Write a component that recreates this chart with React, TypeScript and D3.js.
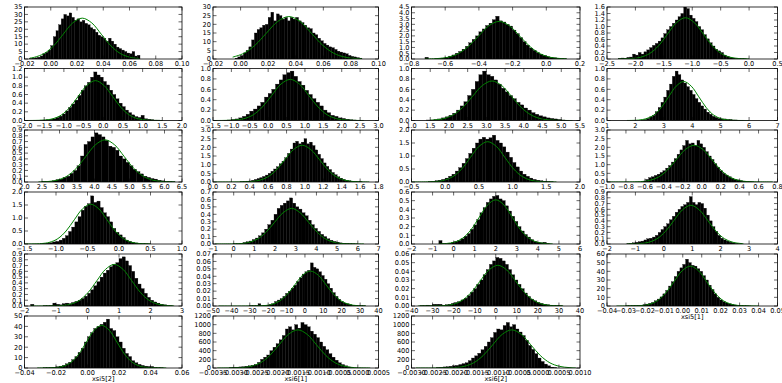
import React from 'react';
import * as d3 from 'd3';

// panel order: row-major, 6 rows x 4 columns (last cell empty)
const LABELS = [
  '', '', '', '',
  '', '', '', '',
  '', '', '', '',
  '', '', '', '',
  '', '', '', 'xsi5[1]',
  'xsi5[2]', 'xsi6[1]', 'xsi6[2]',
];

const X_DOMAINS: [number, number][] = [
  [-0.02, 0.1], [-0.02, 0.1], [-0.8, 0.2], [-2.5, 0.5],
  [-2, 2], [-1.5, 3], [1, 5.5], [1, 7],
  [2, 6.5], [0, 1.8], [-0.5, 2], [-1, 0.8],
  [-1.5, 1], [-1, 7], [-2, 6], [-2, 4],
  [-2, 3], [-50, 40], [-40, 40], [-0.04, 0.05],
  [-0.04, 0.06], [-0.0035, 0.0005], [-0.003, 0.001],
];
const X_STEPS = [
  0.02, 0.02, 0.2, 0.5,
  0.5, 0.5, 0.5, 1,
  0.5, 0.2, 0.5, 0.2,
  0.5, 1, 1, 1,
  1, 10, 10, 0.01,
  0.02, 0.0005, 0.0005,
];
const X_DECIMALS = [2, 2, 1, 1, 1, 1, 1, 0, 1, 1, 1, 1, 1, 0, 0, 0, 0, 0, 0, 2, 2, 4, 4];

const Y_MAX = [35, 30, 4.5, 1.6, 1.2, 1.0, 1.0, 1.0, 0.9, 3.0, 2.0, 3.0, 2.0, 0.7, 0.6, 0.9, 0.9, 0.07, 0.06, 60, 50, 1200, 1200];
const Y_STEPS = [5, 5, 0.5, 0.2, 0.2, 0.2, 0.2, 0.2, 0.1, 0.5, 0.5, 0.5, 0.5, 0.1, 0.1, 0.1, 0.1, 0.01, 0.01, 10, 10, 200, 200];
const Y_DECIMALS = [0, 0, 1, 1, 1, 1, 1, 1, 1, 1, 1, 1, 1, 1, 1, 1, 1, 2, 2, 0, 0, 0, 0];

// histogram bins: first edge and bin width
const BIN_START = [-0.016, -0.004, -0.72, -2.3, -1.6, -1.2, 1.4, 2.2, 2.5, 0.3, -0.25, -0.62, -1.25, 0, -0.7, -1.3, -1.8, -30, -36, -0.03, -0.028, -0.0031, -0.0024];
const BIN_WIDTH = [0.002, 0.002, 0.02, 0.05, 0.08, 0.1, 0.1, 0.1, 0.1, 0.03, 0.05, 0.03, 0.05, 0.15, 0.15, 0.1, 0.1, 1.5, 1.5, 0.0015, 0.002, 0.000075, 0.000075];

const HIST_01 = [0.3, 0.5, 0.8, 1.2, 2, 3.5, 4.5, 6, 9, 15, 19, 23, 27, 30, 29, 31, 28, 26, 27, 25, 26, 24, 23, 21, 20, 18, 16, 15, 14, 12, 14, 12, 10, 8, 7, 6, 5, 4, 3.5, 5, 2, 2.5];
const HIST_02 = [0.5, 1.2, 2, 3.5, 5, 7, 11, 15, 17, 18, 19.5, 20, 24, 27, 22, 26, 25, 23, 24, 22, 24, 23, 24, 22, 21, 19.5, 18, 17.5, 15, 14, 12, 10.5, 9, 8, 7, 6.5, 5.5, 4.5, 4, 3.5, 3, 2, 1.5, 1.2, 0.8, 0.5];
const HIST_03 = [0.15, 0, 0, 0.02, 0.05, 0.08, 0.15, 0.25, 0.35, 0.5, 0.65, 0.85, 1.1, 1.4, 1.7, 2.0, 2.35, 2.6, 2.9, 3.1, 3.4, 3.7, 3.3, 3.2, 3.0, 2.85, 2.5, 2.2, 1.85, 1.5, 1.2, 0.95, 0.75, 0.55, 0.42, 0.3, 0.2, 0.15, 0.1, 0.07, 0.04, 0.02];
const HIST_04 = [0.02, 0.03, 0.02, 0.05, 0.06, 0.15, 0.12, 0.2, 0.15, 0.22, 0.28, 0.35, 0.42, 0.48, 0.55, 0.65, 0.78, 0.9, 1.0, 1.1, 1.2, 1.3, 1.4, 1.6, 1.55, 1.35, 1.25, 1.15, 1.0, 0.9, 0.75, 0.62, 0.5, 0.4, 0.3, 0.25, 0.2, 0.12, 0.08, 0.05, 0.03, 0.02, 0.01, 0.01, 0.005, 0];
const HIST_05 = [0.01, 0.01, 0.02, 0.03, 0.04, 0.07, 0.1, 0.15, 0.22, 0.3, 0.38, 0.47, 0.58, 0.7, 0.8, 0.88, 1.0, 1.12, 1.05, 1.0, 0.9, 0.82, 0.7, 0.6, 0.5, 0.4, 0.32, 0.24, 0.18, 0.13, 0.09, 0.07, 0.12, 0.04, 0.03, 0.02, 0.01, 0.01, 0.005, 0];
const HIST_06 = [0.005, 0.01, 0.02, 0.03, 0.05, 0.08, 0.12, 0.18, 0.22, 0.28, 0.35, 0.45, 0.52, 0.6, 0.7, 0.78, 0.88, 0.92, 0.95, 0.85, 0.75, 0.68, 0.58, 0.5, 0.42, 0.35, 0.28, 0.2, 0.15, 0.1, 0.08, 0.05, 0.04, 0.025, 0.015, 0.01, 0.005, 0.003];
const HIST_07 = [0.01, 0.01, 0.02, 0.03, 0.05, 0.07, 0.1, 0.14, 0.2, 0.28, 0.36, 0.48, 0.6, 0.75, 0.88, 0.95, 0.88, 0.85, 0.78, 0.7, 0.62, 0.55, 0.48, 0.42, 0.35, 0.3, 0.24, 0.2, 0.15, 0.12, 0.09, 0.07, 0.05, 0.04, 0.03, 0.02, 0.01, 0.005];
const HIST_08 = [0.01, 0.02, 0.04, 0.07, 0.1, 0.17, 0.25, 0.35, 0.45, 0.58, 0.7, 0.85, 0.95, 0.88, 0.78, 0.72, 0.65, 0.58, 0.5, 0.42, 0.35, 0.28, 0.22, 0.16, 0.12, 0.08, 0.06, 0.04, 0.03, 0.03, 0.02, 0.02, 0.01, 0.01, 0.005, 0.003];
const HIST_09 = [0.01, 0.01, 0.01, 0.02, 0.04, 0.05, 0.08, 0.1, 0.15, 0.2, 0.28, 0.45, 0.65, 0.7, 0.78, 0.85, 0.82, 0.78, 0.72, 0.62, 0.6, 0.55, 0.45, 0.4, 0.34, 0.28, 0.22, 0.18, 0.14, 0.1, 0.08, 0.06, 0.05, 0.03, 0.02, 0.01, 0.01, 0.005];
const HIST_10 = [0.02, 0.03, 0.05, 0.06, 0.1, 0.15, 0.2, 0.25, 0.32, 0.4, 0.5, 0.62, 0.75, 0.88, 1.05, 1.2, 1.4, 1.65, 1.9, 2.25, 2.35, 2.2, 2.3, 2.5, 2.2, 2.3, 2.1, 1.85, 1.6, 1.35, 1.1, 0.9, 0.72, 0.55, 0.42, 0.3, 0.22, 0.15, 0.1, 0.07, 0.04, 0.03, 0.02, 0.01];
const HIST_11 = [0.02, 0.03, 0.05, 0.07, 0.1, 0.15, 0.22, 0.3, 0.42, 0.55, 0.72, 0.9, 1.1, 1.3, 1.5, 1.65, 1.72, 1.65, 1.7, 1.8, 1.6, 1.5, 1.35, 1.15, 0.95, 0.75, 0.58, 0.42, 0.3, 0.22, 0.15, 0.1, 0.07, 0.05, 0.03, 0.02, 0.01];
const HIST_12 = [0.05, 0.15, 0.25, 0.3, 0.38, 0.45, 0.55, 0.65, 0.8, 0.95, 1.15, 1.35, 1.6, 1.85, 2.1, 2.4, 2.2, 2.25, 2.1, 2.4, 2.2, 2.0, 1.75, 1.5, 1.3, 1.05, 0.85, 0.65, 0.5, 0.4, 0.3, 0.22, 0.15, 0.12, 0.08, 0.05, 0.03, 0.02, 0.01];
const HIST_13 = [0.01, 0.02, 0.03, 0.05, 0.08, 0.1, 0.15, 0.22, 0.32, 0.48, 0.65, 0.85, 1.05, 1.3, 1.45, 1.55, 1.85, 1.6, 1.65, 1.4, 1.2, 1.05, 0.85, 0.6, 0.45, 0.35, 0.25, 0.15, 0.1, 0.06, 0.04, 0.02, 0.01, 0.01, 0.005];
const HIST_14 = [0.003, 0.005, 0.01, 0.02, 0.03, 0.04, 0.06, 0.08, 0.11, 0.15, 0.2, 0.26, 0.32, 0.4, 0.48, 0.52, 0.55, 0.58, 0.62, 0.55, 0.5, 0.47, 0.42, 0.38, 0.32, 0.26, 0.21, 0.17, 0.13, 0.1, 0.07, 0.05, 0.035, 0.025, 0.015, 0.01, 0.008, 0.005, 0.003, 0.002];
const HIST_15 = [0.04, 0.005, 0.005, 0.01, 0.02, 0.03, 0.04, 0.06, 0.09, 0.12, 0.17, 0.22, 0.28, 0.36, 0.42, 0.48, 0.52, 0.55, 0.56, 0.52, 0.5, 0.44, 0.38, 0.32, 0.26, 0.2, 0.15, 0.11, 0.08, 0.05, 0.03, 0.02, 0.015, 0.02, 0.005];
const HIST_16 = [0.005, 0.01, 0.02, 0.03, 0.04, 0.05, 0.07, 0.09, 0.1, 0.12, 0.15, 0.2, 0.25, 0.3, 0.35, 0.42, 0.48, 0.55, 0.6, 0.65, 0.68, 0.72, 0.82, 0.72, 0.68, 0.72, 0.7, 0.62, 0.5, 0.4, 0.3, 0.22, 0.15, 0.1, 0.07, 0.05, 0.03, 0.02, 0.01, 0.005];
const HIST_17 = [0.03, 0, 0, 0, 0.005, 0.005, 0.01, 0.05, 0.03, 0.02, 0.04, 0.05, 0.04, 0.06, 0.08, 0.1, 0.13, 0.17, 0.22, 0.28, 0.35, 0.42, 0.5, 0.57, 0.62, 0.68, 0.72, 0.75, 0.82, 0.85, 0.78, 0.7, 0.6, 0.48, 0.38, 0.3, 0.22, 0.15, 0.1, 0.07, 0.05, 0.03, 0.02, 0.01, 0.005];
const HIST_18 = [0.0005, 0.0005, 0.0005, 0.003, 0.0005, 0.001, 0.001, 0.002, 0.003, 0.006, 0.008, 0.01, 0.013, 0.017, 0.02, 0.024, 0.028, 0.033, 0.038, 0.043, 0.046, 0.048, 0.058, 0.052, 0.05, 0.046, 0.041, 0.036, 0.03, 0.024, 0.018, 0.013, 0.009, 0.006, 0.004, 0.003, 0.002, 0.001, 0.001, 0.0005, 0.0005, 0.0003];
const HIST_19 = [0.0005, 0.0005, 0.001, 0.0005, 0.002, 0.002, 0.002, 0.001, 0.0015, 0.002, 0.003, 0.004, 0.005, 0.007, 0.009, 0.012, 0.016, 0.02, 0.025, 0.03, 0.036, 0.042, 0.048, 0.052, 0.056, 0.055, 0.052, 0.048, 0.042, 0.036, 0.03, 0.025, 0.02, 0.015, 0.011, 0.008, 0.006, 0.004, 0.003, 0.002, 0.0015, 0.001, 0.0005, 0.0005, 0.0003];
const HIST_20 = [0.2, 0.3, 0.5, 0.6, 0.8, 1, 1.5, 2.2, 3, 4, 6, 8, 10.5, 14, 18, 23, 28, 34, 40, 44, 48, 54, 50, 47, 46, 43, 40, 35, 30, 24, 19, 14, 10, 7, 5, 3.5, 2.5, 1.8, 1.2, 0.8, 0.5, 0.3, 0.2, 0.1];
const HIST_21 = [0.2, 0.3, 0.5, 0.8, 1.2, 1.8, 2.5, 4, 5.5, 8, 11, 15, 19, 25, 30, 34, 38, 40, 42, 44, 47, 38, 36, 30, 25, 19, 14, 11, 7, 5, 3.5, 2.5, 1.8, 1.5, 1.5, 0.5, 0.3, 0.2];
const HIST_22 = [10, 15, 20, 25, 30, 40, 50, 60, 80, 130, 200, 250, 300, 400, 480, 560, 650, 750, 900, 950, 880, 1000, 920, 1050, 1000, 950, 850, 780, 700, 600, 500, 420, 330, 250, 180, 120, 80, 50, 25, 15];
const HIST_23 = [10, 15, 25, 30, 40, 50, 60, 80, 100, 120, 170, 230, 280, 340, 420, 500, 600, 700, 820, 900, 880, 980, 1050, 950, 1000, 900, 830, 750, 640, 520, 430, 330, 230, 150, 90, 50, 20, 10];

// fitted normal curves as [x, density] points
const CURVE_01 = [[-0.016, 0.6], [-0.0123, 1.2], [-0.005, 3.7], [0.00225, 8.9], [0.0095, 16.7], [0.01675, 24.3], [0.024, 27.5], [0.03125, 24.3], [0.0385, 16.7], [0.04575, 8.9], [0.053, 3.7], [0.06025, 1.2], [0.0675, 0.3]];
const CURVE_02 = [[-0.00575, 1.08], [0.0024, 3.3], [0.01055, 8.0], [0.0187, 14.9], [0.02685, 21.6], [0.035, 24.5], [0.04315, 21.6], [0.0513, 14.9], [0.05945, 8.0], [0.0676, 3.3], [0.07575, 1.08], [0.0839, 0.27], [0.088, 0.12]];
const CURVE_03 = [[-0.72, 0.005], [-0.649, 0.036], [-0.5875, 0.14], [-0.526, 0.44], [-0.4645, 1.06], [-0.403, 1.97], [-0.3415, 2.87], [-0.28, 3.25], [-0.2185, 2.87], [-0.157, 1.97], [-0.0955, 1.06], [-0.034, 0.44], [0.0275, 0.14], [0.089, 0.036], [0.12, 0.015]];
const CURVE_04 = [[-2.3, 0.001], [-2.062, 0.014], [-1.905, 0.056], [-1.748, 0.17], [-1.591, 0.41], [-1.434, 0.77], [-1.277, 1.12], [-1.12, 1.27], [-0.963, 1.12], [-0.806, 0.77], [-0.649, 0.41], [-0.492, 0.17], [-0.335, 0.056], [-0.178, 0.014], [0.0, 0.002]];
const CURVE_05 = [[-2.0, 0.0], [-1.502, 0.01], [-1.285, 0.04], [-1.068, 0.124], [-0.851, 0.3], [-0.634, 0.56], [-0.417, 0.81], [-0.2, 0.92], [0.017, 0.81], [0.234, 0.56], [0.451, 0.3], [0.668, 0.124], [0.885, 0.04], [1.102, 0.01], [1.5, 0.0]];
const CURVE_06 = [[-1.5, 0], [-0.915, 0.009], [-0.6625, 0.035], [-0.41, 0.107], [-0.1575, 0.26], [0.095, 0.48], [0.3475, 0.7], [0.6, 0.79], [0.8525, 0.7], [1.105, 0.48], [1.3575, 0.26], [1.61, 0.107], [1.8625, 0.035], [2.115, 0.009], [2.6, 0.0003]];
const CURVE_07 = [[1.5, 0.005], [1.575, 0.008], [1.8375, 0.033], [2.1, 0.103], [2.3625, 0.247], [2.625, 0.46], [2.8875, 0.67], [3.15, 0.76], [3.4125, 0.67], [3.675, 0.46], [3.9375, 0.247], [4.2, 0.103], [4.4625, 0.033], [4.725, 0.008], [5.3, 0.0002]];
const CURVE_08 = [[1.7, 0.0006], [2.104, 0.008], [2.37, 0.033], [2.636, 0.1], [2.902, 0.244], [3.168, 0.455], [3.434, 0.66], [3.7, 0.75], [3.966, 0.66], [4.232, 0.455], [4.498, 0.244], [4.764, 0.1], [5.03, 0.033], [5.296, 0.008], [6.0, 0.0]];
const CURVE_09 = [[2.4, 0.002], [2.662, 0.008], [2.935, 0.032], [3.208, 0.099], [3.481, 0.237], [3.754, 0.443], [4.027, 0.644], [4.3, 0.73], [4.573, 0.644], [4.846, 0.443], [5.119, 0.237], [5.392, 0.099], [5.665, 0.032], [5.938, 0.008], [6.3, 0.0009]];
const CURVE_10 = [[0.0, 0], [0.406, 0.024], [0.5, 0.093], [0.594, 0.287], [0.688, 0.69], [0.782, 1.29], [0.876, 1.87], [0.97, 2.12], [1.064, 1.87], [1.158, 1.29], [1.252, 0.69], [1.346, 0.287], [1.44, 0.093], [1.534, 0.024], [1.7, 0.001]];
const CURVE_11 = [[-0.5, 0], [-0.141, 0.017], [-0.0125, 0.068], [0.116, 0.21], [0.2445, 0.5], [0.373, 0.94], [0.5015, 1.37], [0.63, 1.55], [0.7585, 1.37], [0.887, 0.94], [1.0155, 0.5], [1.144, 0.21], [1.2725, 0.068], [1.401, 0.017], [1.65, 0.0006]];
const CURVE_12 = [[-1.0, 0], [-0.644, 0.024], [-0.55, 0.093], [-0.456, 0.287], [-0.362, 0.69], [-0.268, 1.29], [-0.174, 1.87], [-0.08, 2.12], [0.014, 1.87], [0.108, 1.29], [0.202, 0.69], [0.296, 0.287], [0.39, 0.093], [0.484, 0.024], [0.75, 0.0003]];
const CURVE_13 = [[-1.5, 0.0004], [-1.23, 0.017], [-1.1, 0.067], [-0.97, 0.207], [-0.84, 0.5], [-0.71, 0.93], [-0.58, 1.35], [-0.45, 1.53], [-0.32, 1.35], [-0.19, 0.93], [-0.06, 0.5], [0.07, 0.207], [0.2, 0.067], [0.33, 0.017], [0.5, 0.002]];
const CURVE_14 = [[-0.9, 0], [0.31, 0.005], [0.725, 0.021], [1.14, 0.065], [1.555, 0.156], [1.97, 0.29], [2.385, 0.42], [2.8, 0.48], [3.215, 0.42], [3.63, 0.29], [4.045, 0.156], [4.46, 0.065], [4.875, 0.021], [5.29, 0.005], [6.3, 0]];
const CURVE_15 = [[-0.7, 0.001], [-0.34, 0.006], [0.05, 0.022], [0.44, 0.069], [0.83, 0.166], [1.22, 0.31], [1.61, 0.45], [2.0, 0.51], [2.39, 0.45], [2.78, 0.31], [3.17, 0.166], [3.56, 0.069], [3.95, 0.022], [4.34, 0.006], [4.7, 0.0014]];
const CURVE_16 = [[-1.3, 0.0005], [-0.835, 0.007], [-0.5375, 0.029], [-0.24, 0.09], [0.0575, 0.218], [0.355, 0.407], [0.6525, 0.59], [0.95, 0.67], [1.2475, 0.59], [1.545, 0.407], [1.8425, 0.218], [2.14, 0.09], [2.4375, 0.029], [2.8, 0.005]];
const CURVE_17 = [[-1.8, 0], [-0.812, 0.008], [-0.535, 0.032], [-0.258, 0.097], [0.019, 0.234], [0.296, 0.437], [0.573, 0.635], [0.85, 0.72], [1.127, 0.635], [1.404, 0.437], [1.681, 0.234], [1.958, 0.097], [2.235, 0.032], [2.512, 0.008], [2.75, 0.002]];
const CURVE_18 = [[-47, 0], [-22.5, 0.0005], [-18.25, 0.002], [-14, 0.0064], [-9.75, 0.0153], [-5.5, 0.0285], [-1.25, 0.0415], [3, 0.047], [7.25, 0.0415], [11.5, 0.0285], [15.75, 0.0153], [20, 0.0064], [24.25, 0.002], [28.5, 0.0005], [33, 0.0001]];
const CURVE_19 = [[-37, 0], [-24.5, 0.0005], [-20.25, 0.002], [-16, 0.0064], [-11.75, 0.0153], [-7.5, 0.0285], [-3.25, 0.0415], [1, 0.047], [5.25, 0.0415], [9.5, 0.0285], [13.75, 0.0153], [18, 0.0064], [22.25, 0.002], [26.5, 0.0005], [32, 0.0001]];
const CURVE_20 = [[-0.035, 0], [-0.022, 0.5], [-0.01768, 2.0], [-0.01334, 6.2], [-0.009, 15], [-0.00467, 27.9], [-0.00034, 40.6], [0.004, 46], [0.00834, 40.6], [0.01267, 27.9], [0.017, 15], [0.02134, 6.2], [0.02567, 2.0], [0.03, 0.5], [0.04, 0.01]];
const CURVE_21 = [[-0.032, 0], [-0.0201, 0.45], [-0.01525, 1.8], [-0.0104, 5.5], [-0.00555, 13.3], [-0.0007, 24.9], [0.00415, 36.2], [0.009, 41], [0.01385, 36.2], [0.0187, 24.9], [0.02355, 13.3], [0.0284, 5.5], [0.03325, 1.8], [0.0381, 0.45], [0.05, 0.01]];
const CURVE_22 = [[-0.0034, 0.1], [-0.002809, 9.7], [-0.0025825, 38.7], [-0.002356, 119], [-0.0021295, 286], [-0.001903, 534], [-0.0016765, 776], [-0.00145, 880], [-0.0012235, 776], [-0.000997, 534], [-0.0007705, 286], [-0.000544, 119], [-0.0003175, 38.7], [-0.000091, 9.7], [0.0003, 0.2]];
const CURVE_23 = [[-0.0029, 0], [-0.001979, 9.7], [-0.0017525, 38.7], [-0.001526, 119], [-0.0012995, 286], [-0.001073, 534], [-0.0008465, 776], [-0.00062, 880], [-0.0003935, 776], [-0.000167, 534], [0.0000595, 286], [0.000286, 119], [0.0005125, 38.7], [0.000739, 9.7], [0.0009, 2.5]];

const HISTS = [HIST_01, HIST_02, HIST_03, HIST_04, HIST_05, HIST_06, HIST_07, HIST_08, HIST_09, HIST_10, HIST_11, HIST_12, HIST_13, HIST_14, HIST_15, HIST_16, HIST_17, HIST_18, HIST_19, HIST_20, HIST_21, HIST_22, HIST_23];
const CURVES = [CURVE_01, CURVE_02, CURVE_03, CURVE_04, CURVE_05, CURVE_06, CURVE_07, CURVE_08, CURVE_09, CURVE_10, CURVE_11, CURVE_12, CURVE_13, CURVE_14, CURVE_15, CURVE_16, CURVE_17, CURVE_18, CURVE_19, CURVE_20, CURVE_21, CURVE_22, CURVE_23];

// layout (px)
const W = 782;
const H = 383;
const COL_LEFT = [24.5, 213, 411.5, 607];
const COL_RIGHT = [182, 378.5, 580, 777.5];
const ROW_TOP = [7, 68.5, 130, 192, 254, 316];
const PANEL_H = 52;
const TICK = 3.5;
const FONT = '"DejaVu Sans", sans-serif';
const FS = 6.6;

function tickValues(lo: number, hi: number, step: number) {
  const n = Math.round((hi - lo) / step);
  return d3.range(n + 1).map(k => {
    const v = lo + k * step;
    return Math.abs(v) < step * 1e-6 ? 0 : v;
  });
}

function Panel({ i }: { i: number }) {
  const row = Math.floor(i / 4);
  const col = i % 4;
  const left = COL_LEFT[col];
  const right = COL_RIGHT[col];
  const top = ROW_TOP[row];
  const bottom = top + PANEL_H;

  const x = d3.scaleLinear().domain(X_DOMAINS[i]).range([left, right]);
  const y = d3.scaleLinear().domain([0, Y_MAX[i]]).range([bottom, top]);
  const fx = d3.format(`.${X_DECIMALS[i]}f`);
  const fy = d3.format(`.${Y_DECIMALS[i]}f`);
  const xt = tickValues(X_DOMAINS[i][0], X_DOMAINS[i][1], X_STEPS[i]);
  const yt = tickValues(0, Y_MAX[i], Y_STEPS[i]);

  const line = d3.line<number[]>()
    .x(d => x(d[0]))
    .y(d => y(d[1]))
    .curve(d3.curveCatmullRom);

  const clipId = `clip-${i}`;
  const hist = HISTS[i];

  return (
    <g>
      <defs>
        <clipPath id={clipId}>
          <rect x={left} y={top} width={right - left} height={bottom - top} />
        </clipPath>
      </defs>
      <rect x={left} y={top} width={right - left} height={bottom - top} fill="#fff" />
      <g clipPath={`url(#${clipId})`}>
        {hist.map((h, j) => {
          const x0 = BIN_START[i] + j * BIN_WIDTH[i];
          const x1 = x0 + BIN_WIDTH[i];
          return (
            <rect key={j} x={x(x0)} width={Math.max(0.3, x(x1) - x(x0))}
              y={y(h)} height={Math.max(0, y(0) - y(h))} fill="#000" stroke="#000" strokeWidth={0.3} />
          );
        })}
        <path d={line(CURVES[i]) ?? ''} fill="none" stroke="#008000" strokeWidth={1} />
      </g>
      <rect x={left} y={top} width={right - left} height={bottom - top} fill="none" stroke="#000" strokeWidth={0.8} />
      {xt.map((v, k) => (
        <g key={`x${k}`}>
          <line x1={x(v)} x2={x(v)} y1={bottom} y2={bottom - TICK} stroke="#000" strokeWidth={0.6} />
          <line x1={x(v)} x2={x(v)} y1={top} y2={top + TICK} stroke="#000" strokeWidth={0.6} />
          <text x={x(v)} y={bottom + 7.2} textAnchor="middle" fontSize={FS} fontFamily={FONT}>{fx(v)}</text>
        </g>
      ))}
      {yt.map((v, k) => (
        <g key={`y${k}`}>
          <line x1={left} x2={left + TICK} y1={y(v)} y2={y(v)} stroke="#000" strokeWidth={0.6} />
          <line x1={right} x2={right - TICK} y1={y(v)} y2={y(v)} stroke="#000" strokeWidth={0.6} />
          <text x={left - 2} y={y(v)} dy="0.35em" textAnchor="end" fontSize={FS} fontFamily={FONT}>{fy(v)}</text>
        </g>
      ))}
      {LABELS[i] && (
        <text x={(left + right) / 2} y={bottom + 13} textAnchor="middle" fontSize={FS} fontFamily={FONT}>{LABELS[i]}</text>
      )}
    </g>
  );
}

export default function App() {
  return (
    <div style={{ position: 'fixed', left: 0, top: 0, width: W, height: H, background: '#fff' }}>
      <svg width={W} height={H} viewBox={`0 0 ${W} ${H}`}>
        <rect width={W} height={H} fill="#fff" />
        {X_DOMAINS.map((_, i) => <Panel key={i} i={i} />)}
      </svg>
    </div>
  );
}
